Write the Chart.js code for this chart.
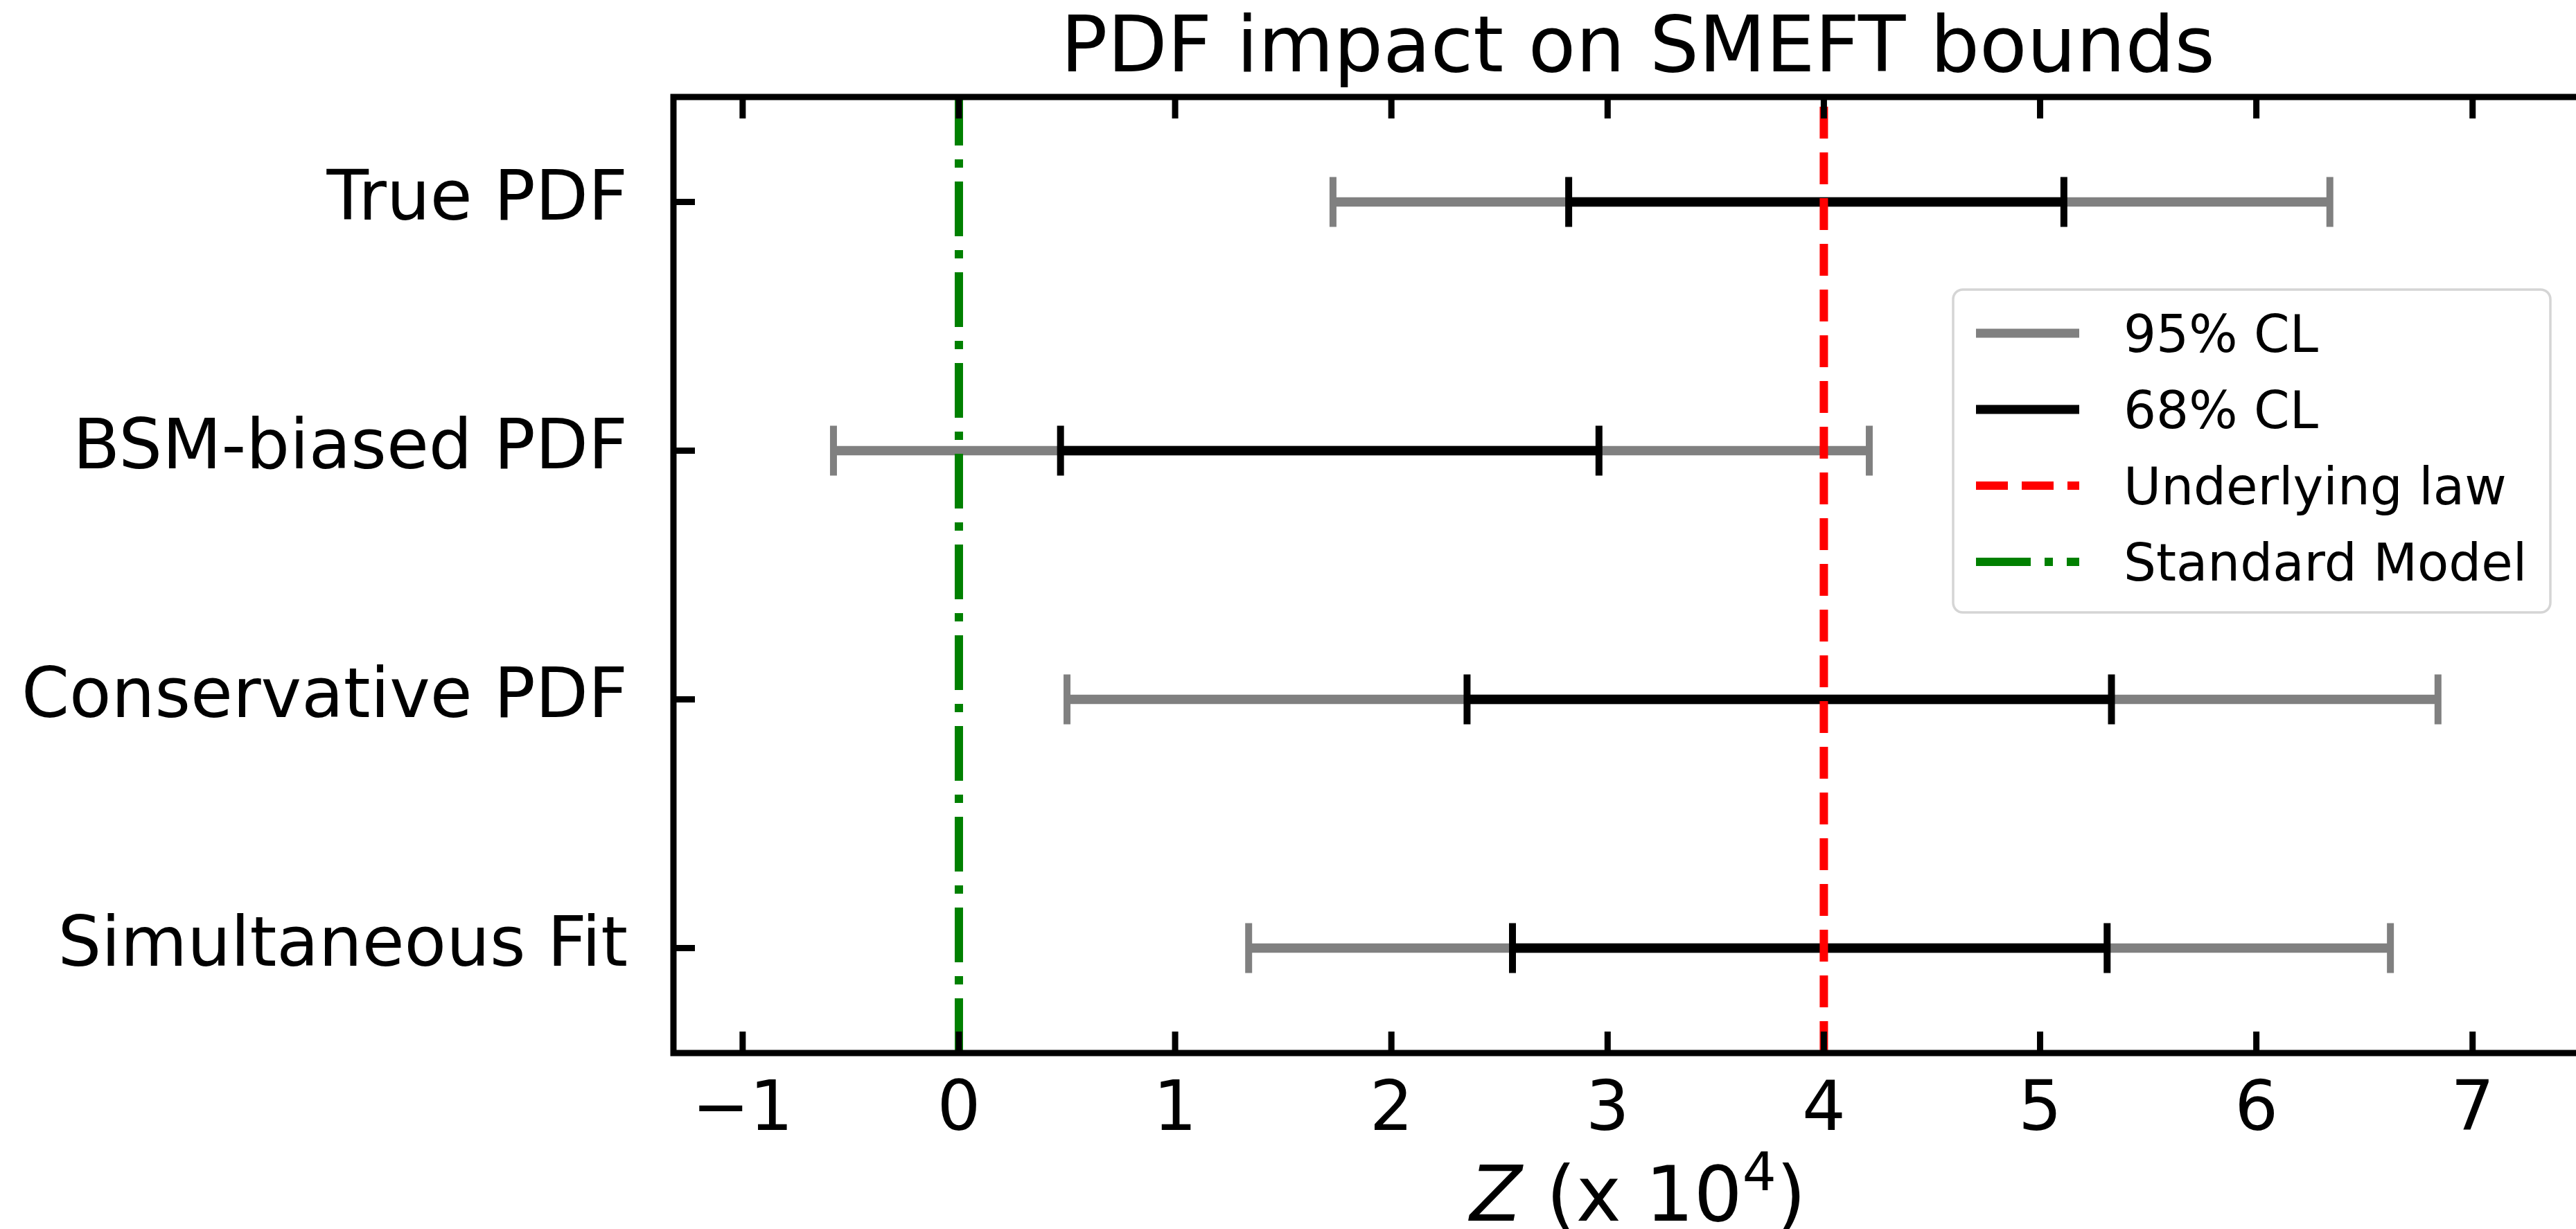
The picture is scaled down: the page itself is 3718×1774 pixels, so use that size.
<!DOCTYPE html>
<html>
<head>
<meta charset="utf-8">
<title>PDF impact on SMEFT bounds</title>
<script src="https://cdn.jsdelivr.net/npm/chart.js@4.4.1/dist/chart.umd.min.js"></script>
<style>
  html, body { margin: 0; padding: 0; background: #fff; overflow: hidden; }
  #wrap { position: absolute; left: 0; top: 0; }
</style>
</head>
<body>
<div id="wrap"><canvas id="bounds" width="3764" height="1774"></canvas></div>
<script>
const fits = ['True PDF', 'BSM-biased PDF', 'Conservative PDF', 'Simultaneous Fit']
const low95 = [1.73, -0.58, 0.50, 1.34]
const high95 = [6.34, 4.21, 6.84, 6.62]
const low68 = [2.82, 0.47, 2.35, 2.56]
const high68 = [5.11, 2.96, 5.33, 5.31]
const underlyingLaw = 4
const standardModel = 0
const xRange = [-1.32, 7.6]
const yRange = [-0.422, 3.422]
const title = 'PDF impact on SMEFT bounds'

const FONT = '"DejaVu Sans", sans-serif'
const rows = fits.map((f, i) => i)
const bar = (lo, hi) => rows.map(i => ({ y: i, x: [lo[i], hi[i]] }))
const caps = (lo, hi) => rows.flatMap(i => [{ x: lo[i], y: i }, { x: hi[i], y: i }])
// start at the bottom so the dash pattern begins there, like matplotlib
const vline = v => [{ x: v, y: yRange[1] }, { x: v, y: yRange[0] }]

const capStyle = color => ({
  type: 'scatter',
  pointStyle: 'line',
  pointRotation: 90,
  pointRadius: 36,
  pointBorderWidth: 10,
  pointBorderColor: color,
  pointBackgroundColor: color,
  showLine: false
})

// frame with inward ticks, title and x label
const frame = {
  id: 'frame',
  afterDatasetsDraw(chart) {
    const { ctx, chartArea: a, scales: { x, y } } = chart
    ctx.save()
    ctx.strokeStyle = '#000'
    ctx.lineWidth = 9
    ctx.lineJoin = 'miter'
    ctx.beginPath()
    ctx.rect(a.left, a.top, a.right - a.left, a.bottom - a.top)
    ctx.stroke()

    ctx.beginPath()
    x.ticks.forEach(t => {
      const px = x.getPixelForValue(t.value)
      ctx.moveTo(px, a.bottom); ctx.lineTo(px, a.bottom - 31)
      ctx.moveTo(px, a.top); ctx.lineTo(px, a.top + 31)
    })
    y.ticks.forEach(t => {
      const py = y.getPixelForValue(t.value)
      ctx.moveTo(a.left, py); ctx.lineTo(a.left + 31, py)
    })
    ctx.stroke()

    const cx = (a.left + a.right) / 2
    ctx.fillStyle = '#000'
    ctx.textBaseline = 'alphabetic'
    ctx.textAlign = 'center'
    ctx.font = '112px ' + FONT
    ctx.fillText(title, cx, 103)

    // Z (x 10^4)
    const parts = [
      { t: 'Z', f: 'italic 110px ' + FONT, dy: 0 },
      { t: ' (x 10', f: '110px ' + FONT, dy: 0 },
      { t: '4', f: '77px ' + FONT, dy: -44 },
      { t: ')', f: '110px ' + FONT, dy: 0 }
    ]
    ctx.textAlign = 'left'
    let w = 0
    parts.forEach(p => { ctx.font = p.f; p.w = ctx.measureText(p.t).width; w += p.w })
    let px = cx - w / 2
    parts.forEach(p => {
      ctx.font = p.f
      ctx.fillText(p.t, px, 1762 + p.dy)
      px += p.w
    })
    ctx.restore()
  }
}

// legend box inside the axes, upper right
const legendBox = {
  id: 'legendBox',
  afterDraw(chart) {
    const { ctx } = chart
    const items = chart.data.datasets.filter(ds => ds.type !== 'scatter')
    ctx.save()
    ctx.beginPath()
    ctx.roundRect(2819, 418, 862, 466, 14)
    ctx.fillStyle = 'rgba(255,255,255,0.8)'
    ctx.fill()
    ctx.strokeStyle = '#d5d5d5'
    ctx.lineWidth = 3.5
    ctx.stroke()
    items.forEach((ds, i) => {
      const yy = 481 + i * 110
      ctx.beginPath()
      ctx.lineCap = 'butt'
      ctx.setLineDash(ds.borderDash || [])
      ctx.strokeStyle = ds.type === 'bar' ? ds.backgroundColor : ds.borderColor
      ctx.lineWidth = ds.barThickness || ds.borderWidth
      ctx.moveTo(2852, yy)
      ctx.lineTo(3001, yy)
      ctx.stroke()
      ctx.setLineDash([])
      ctx.fillStyle = '#000'
      ctx.font = '74px ' + FONT
      ctx.textAlign = 'left'
      ctx.textBaseline = 'alphabetic'
      ctx.fillText(ds.label, 3065, yy + 27)
    })
    ctx.restore()
  }
}

new Chart(document.getElementById('bounds'), {
  type: 'bar',
  data: {
    datasets: [
      { type: 'bar', label: '95% CL', data: bar(low95, high95), backgroundColor: '#808080',
        barThickness: 13, grouped: false, order: 4 },
      { label: '95% caps', data: caps(low95, high95), order: 3, ...capStyle('#808080') },
      { type: 'bar', label: '68% CL', data: bar(low68, high68), backgroundColor: '#000000',
        barThickness: 13, grouped: false, order: 2 },
      { label: '68% caps', data: caps(low68, high68), order: 1, ...capStyle('#000000') },
      { type: 'line', label: 'Underlying law', data: vline(underlyingLaw), borderColor: '#ff0000',
        borderWidth: 12, borderDash: [46, 20], borderCapStyle: 'butt', pointRadius: 0, order: 0 },
      { type: 'line', label: 'Standard Model', data: vline(standardModel), borderColor: '#008000',
        borderWidth: 12, borderDash: [79, 20, 12, 20], borderCapStyle: 'butt', pointRadius: 0, order: 0 }
    ]
  },
  options: {
    indexAxis: 'y',
    responsive: false,
    animation: false,
    events: [],
    layout: { autoPadding: false, padding: { top: 140, right: 8, bottom: 0, left: 0 } },
    plugins: { legend: { display: false }, tooltip: { enabled: false }, title: { display: false } },
    scales: {
      x: {
        type: 'linear',
        position: 'bottom',
        min: xRange[0],
        max: xRange[1],
        offset: false,
        grid: { display: false, drawTicks: false },
        border: { display: false },
        ticks: {
          stepSize: 1,
          includeBounds: false,
          autoSkip: false,
          maxRotation: 0,
          padding: 26,
          color: '#000',
          font: { family: 'DejaVu Sans', size: 99 },
          callback: v => v < 0 ? '\u2212' + Math.abs(v) : String(v)
        },
        afterFit: s => { s.height = 254 }
      },
      y: {
        type: 'linear',
        position: 'left',
        reverse: true,
        min: yRange[0],
        max: yRange[1],
        offset: false,
        grid: { display: false, drawTicks: false, offset: false },
        border: { display: false },
        ticks: {
          stepSize: 1,
          includeBounds: false,
          autoSkip: false,
          padding: 66,
          color: '#000',
          font: { family: 'DejaVu Sans', size: 99 },
          callback: v => fits[v] || ''
        },
        afterFit: s => { s.width = 972 }
      }
    }
  },
  plugins: [frame, legendBox]
})
</script>
</body>
</html>
